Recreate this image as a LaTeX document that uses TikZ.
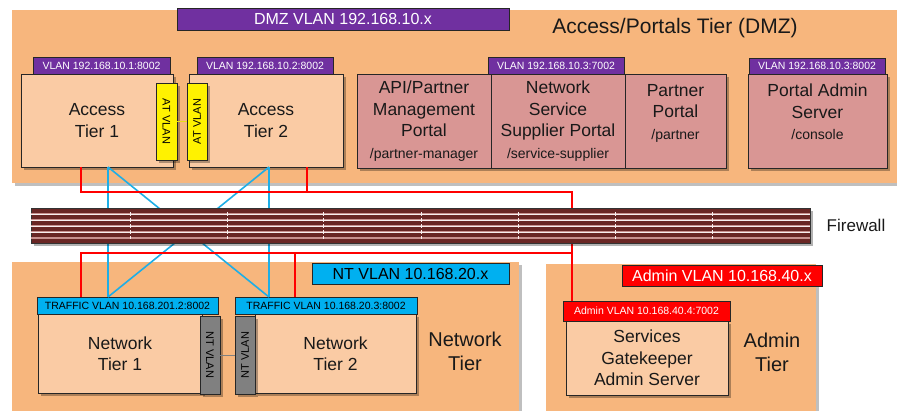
\documentclass[tikz,border=0pt]{standalone}
\usepackage{fontspec}
\setmainfont{Liberation Sans}
\usetikzlibrary{shadows}

\definecolor{tierorange}{RGB}{247,182,125}
\definecolor{boxpeach}{RGB}{250,203,164}
\definecolor{portalpink}{RGB}{217,150,148}
\definecolor{vlanpurple}{RGB}{112,48,160}
\definecolor{vlancyan}{RGB}{0,176,240}
\definecolor{linkblue}{RGB}{30,174,230}
\definecolor{fwbrown}{RGB}{105,38,36}
\definecolor{fwstripe}{RGB}{200,145,143}
\definecolor{textdark}{RGB}{25,25,25}

\begin{document}
\begin{tikzpicture}[x=1pt,y=-1pt,
    tier/.style={fill=tierorange,inner sep=0pt,outer sep=0pt,anchor=north west,
      drop shadow={shadow xshift=3pt,shadow yshift=-3pt,fill=black,opacity=0.25}},
    srv/.style={draw=black!85,line width=0.8pt,inner sep=0pt,outer sep=0pt,anchor=north west,
      align=center,text=textdark,font=\fontsize{17.5}{21.5}\selectfont,
      drop shadow={shadow xshift=2.5pt,shadow yshift=-2.5pt,fill=black,opacity=0.3}},
    peach/.style={srv,fill=boxpeach},
    portal/.style={srv,fill=portalpink},
    bar/.style={srv,font=\fontsize{11}{13}\selectfont},
    tag/.style={draw=black!85,line width=0.8pt,inner sep=0pt,outer sep=0pt,anchor=north west,
      font=\fontsize{10.5}{12}\selectfont},
    vlan/.style={draw=black!85,line width=0.8pt,inner sep=0pt,outer sep=0pt,anchor=north west,
      font=\fontsize{16}{19}\selectfont},
    toptext/.style={anchor=north,align=center,inner sep=0pt,text=textdark,font=\fontsize{17.5}{21.5}\selectfont},
    tiername/.style={align=center,text=textdark,font=\fontsize{20}{24}\selectfont},
    bluelink/.style={linkblue,line width=1.6pt},
    redlink/.style={red,line width=1.4pt}]

    \useasboundingbox (0,0) rectangle (897,410);

    % Tier backgrounds
    \node[tier,minimum width=885pt,minimum height=173pt] (dmz) at (12,10) {};
    \node[tier,minimum width=507pt,minimum height=150pt] (ntier) at (12,262) {};
    \node[tier,minimum width=270pt,minimum height=150pt] (atier) at (546,264) {};

    % Tier names and VLAN labels
    \node[tiername,font=\fontsize{21}{24}\selectfont] (dmzname) at (675,28) {Access/Portals Tier (DMZ)};
    \node[tiername] (ntname) at (465,351) {Network\\Tier};
    \node[tiername] (atname) at (772,352) {Admin\\Tier};
    \node[vlan,fill=vlanpurple,text=white,minimum width=332pt,minimum height=22pt] (dmzvlan) at (177,8) {DMZ VLAN 192.168.10.x};
    \node[vlan,fill=vlancyan,text=black,minimum width=197pt,minimum height=21pt] (ntvlan) at (312,263) {NT VLAN 10.168.20.x};
    \node[vlan,fill=red,text=white,minimum width=200pt,minimum height=21pt] (atvlan) at (622,265) {Admin VLAN 10.168.40.x};

    % Access tier
    \node[peach,minimum width=152pt,minimum height=93pt] (at1) at (21,74) {Access\\Tier 1};
    \node[tag,fill=vlanpurple,text=white,minimum width=137pt,minimum height=17pt] (at1tag) at (33,57) {VLAN 192.168.10.1:8002};
    \node[peach,minimum width=154pt,minimum height=93pt] (at2) at (189,74) {Access\\Tier 2};
    \node[tag,fill=vlanpurple,text=white,minimum width=136pt,minimum height=17pt] (at2tag) at (197,57) {VLAN 192.168.10.2:8002};
    \node[bar,fill=yellow,minimum width=21pt,minimum height=77pt] (atbar1) at (156,83) {};
    \node[rotate=-90,font=\fontsize{11}{13}\selectfont] at (atbar1.center) {AT VLAN};
    \node[bar,fill=yellow,minimum width=20pt,minimum height=77pt] (atbar2) at (187,83) {};
    \node[rotate=90,font=\fontsize{11}{13}\selectfont] at (atbar2.center) {AT VLAN};
    \draw[yellow!90!black,line width=1pt] (atbar1.east) -- (atbar2.west);

    % Portals
    \node[portal,minimum width=134pt,minimum height=94pt] (pmp) at (357,74)
      {API/Partner\\Management\\Portal\\{\fontsize{14}{16}\selectfont /partner-manager}};
    \node[portal,minimum width=134pt,minimum height=94pt] (nssp) at (491,74)
      {Network\\Service\\Supplier Portal\\{\fontsize{14}{16}\selectfont /service-supplier}};
    \node[portal,minimum width=101pt,minimum height=94pt] (pp) at (625,74) {};
    \node[toptext,yshift=-10pt] (pptext) at (pp.north) {Partner\\Portal\\{\fontsize{14}{16}\selectfont /partner}};
    \node[tag,fill=vlanpurple,text=white,minimum width=136pt,minimum height=17pt] (pmtag) at (488,57) {VLAN 192.168.10.3:7002};
    \node[portal,minimum width=139pt,minimum height=94pt] (pas) at (748,74) {};
    \node[toptext,yshift=-10pt] (pastext) at (pas.north) {Portal Admin\\Server\\{\fontsize{14}{16}\selectfont /console}};
    \node[tag,fill=vlanpurple,text=white,minimum width=136pt,minimum height=16pt] (pastag) at (749,58) {VLAN 192.168.10.3:8002};

    % Network tier
    \node[peach,minimum width=164pt,minimum height=79pt] (nt1) at (38,314) {Network\\Tier 1};
    \node[tag,fill=vlancyan,minimum width=181pt,minimum height=17pt] (nt1tag) at (37,297) {TRAFFIC VLAN 10.168.201.2:8002};
    \node[peach,minimum width=161pt,minimum height=79pt] (nt2) at (255,314) {Network\\Tier 2};
    \node[tag,fill=vlancyan,minimum width=182pt,minimum height=17pt] (nt2tag) at (235,297) {TRAFFIC VLAN 10.168.20.3:8002};
    \node[bar,fill=black!50,minimum width=20pt,minimum height=78pt] (ntbar1) at (200,316) {};
    \node[rotate=-90,font=\fontsize{11}{13}\selectfont] at (ntbar1.center) {NT VLAN};
    \node[bar,fill=black!50,minimum width=20pt,minimum height=78pt] (ntbar2) at (235,316) {};
    \node[rotate=90,font=\fontsize{11}{13}\selectfont] at (ntbar2.center) {NT VLAN};
    \draw[black!50,line width=1pt] (ntbar1.east) -- (ntbar2.west);

    % Admin tier
    \node[peach,minimum width=162pt,minimum height=74pt] (sgas) at (566,321) {Services\\Gatekeeper\\Admin Server};
    \node[tag,fill=red,text=white,minimum width=167pt,minimum height=20pt] (sgtag) at (563,301) {Admin VLAN 10.168.40.4:7002};

    % Traffic links (blue)
    \draw[bluelink] ([xshift=87pt]at1.south west) -- ([xshift=71pt]nt1tag.north west);
    \draw[bluelink] ([xshift=87pt]at1.south west) -- ([xshift=34pt]nt2tag.north west);
    \draw[bluelink] ([xshift=80pt]at2.south west) -- ([xshift=34pt]nt2tag.north west);
    \draw[bluelink] ([xshift=80pt]at2.south west) -- ([xshift=71pt]nt1tag.north west);

    % Admin links (red)
    \coordinate (busdmz) at (572,192);
    \coordinate (busnt) at (572,253);
    \draw[redlink] ([xshift=60pt]at1.south west) |- (busdmz) -- ([xshift=9pt]sgtag.north west);
    \draw[redlink] ([xshift=118pt]at2.south west) -- ([xshift=118pt]at2.south west |- busdmz);
    \draw[redlink] ([xshift=44pt]nt1tag.north west) |- (busnt);
    \draw[redlink] ([xshift=60pt]nt2tag.north west) |- (busnt);

    % Firewall
    \node[draw=black!80,fill=fwbrown,line width=0.8pt,inner sep=0pt,outer sep=0pt,anchor=north west,
      minimum width=779pt,minimum height=35pt,
      drop shadow={shadow xshift=2.5pt,shadow yshift=-2.5pt,fill=black,opacity=0.3}] (fw) at (31,208) {};
    \foreach \dy in {6,12,18,24,30}
      \draw[fwstripe,line width=2.2pt] ([yshift=-\dy pt]fw.north west) -- ([yshift=-\dy pt]fw.north east);
    \foreach \dy in {6,12,18,24}
      \draw[white!85!fwstripe,line width=0.6pt] ([yshift=-\dy pt]fw.north west) -- ([yshift=-\dy pt]fw.north east);
    \foreach \dx in {99,196,292,390,487,584,681}
      \draw[white!85!fwstripe,line width=1pt,dash pattern=on 4pt off 2pt]
        ([xshift=\dx pt,yshift=-4pt]fw.north west) -- ([xshift=\dx pt,yshift=4pt]fw.south west);
    \node[text=textdark,font=\fontsize{17}{20}\selectfont] (fwname) at (856,225) {Firewall};

\end{tikzpicture}
\end{document}
